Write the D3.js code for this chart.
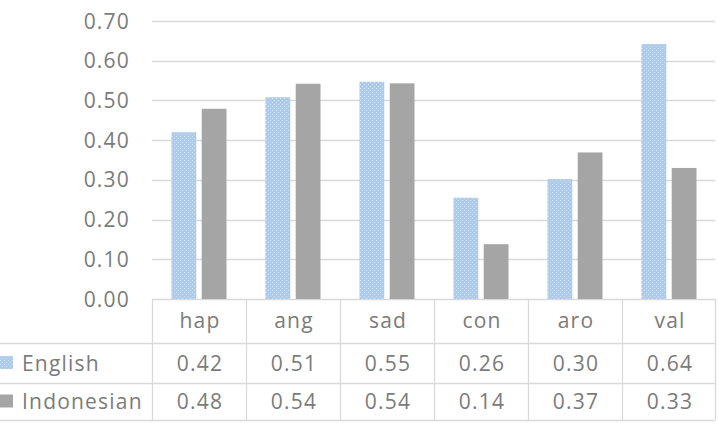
<!DOCTYPE html>
<html>
<head>
<meta charset="utf-8">
<script src="https://cdn.jsdelivr.net/npm/d3@7"></script>
<style>
  body { margin: 0; background: #fff; }
  text { font-family: "Open Sans", "Noto Sans", sans-serif; fill: #7b7b7b; font-size: 21px; letter-spacing: 1.2px; }
</style>
</head>
<body>
<div id="chart"></div>
<script>
// data
var categories = ["hap", "ang", "sad", "con", "aro", "val"];
var series = ["English", "Indonesian"];
var english = [0.420, 0.508, 0.547, 0.255, 0.302, 0.642];
var indonesian = [0.479, 0.542, 0.543, 0.138, 0.369, 0.330];
var yTicks = [0, 0.1, 0.2, 0.3, 0.4, 0.5, 0.6, 0.7];

var values = [english, indonesian];

var width = 719, height = 426;
var plot = {left: 152, right: 716, top: 21, bottom: 299};
var rows = [299, 343, 383, 420];

var svg = d3.select("#chart").append("svg")
    .attr("width", width)
    .attr("height", height);

// dotted fill for the English bars
var defs = svg.append("defs");
var pat = defs.append("pattern")
    .attr("id", "dots")
    .attr("patternUnits", "userSpaceOnUse")
    .attr("width", 4)
    .attr("height", 4);
pat.append("rect").attr("width", 4).attr("height", 4).attr("fill", "#aecbec");
pat.append("rect").attr("x", 0).attr("y", 0).attr("width", 1).attr("height", 1).attr("fill", "#c9ddf3");
pat.append("rect").attr("x", 2).attr("y", 2).attr("width", 1).attr("height", 1).attr("fill", "#c9ddf3");

var colors = ["url(#dots)", "#a5a5a5"];

// scales
var x0 = d3.scaleBand()
    .domain(categories)
    .range([plot.left, plot.right]);
var x1 = d3.scaleBand()
    .domain(series)
    .range([x0.bandwidth() / 2 - 27.5, x0.bandwidth() / 2 + 27.5])
    .paddingInner(0.18);
var y = d3.scaleLinear()
    .domain([0, 0.7])
    .range([plot.bottom, plot.top]);

// gridlines
svg.append("g").selectAll("line")
    .data(yTicks)
    .enter().append("line")
    .attr("x1", plot.left)
    .attr("x2", plot.right - 1)
    .attr("y1", d => Math.round(y(d)) + 0.5)
    .attr("y2", d => Math.round(y(d)) + 0.5)
    .attr("stroke", "#d9d9d9")
    .attr("stroke-width", 1.3);

// y labels
svg.append("g").selectAll("text")
    .data(yTicks)
    .enter().append("text")
    .attr("x", 130)
    .attr("y", d => y(d))
    .attr("dy", "0.36em")
    .attr("text-anchor", "end")
    .text(d => d3.format(".2f")(d));

// bars
var groups = svg.append("g").selectAll("g")
    .data(categories)
    .enter().append("g")
    .attr("transform", d => "translate(" + x0(d) + ",0)");

groups.selectAll("rect")
    .data((d, i) => series.map((s, j) => ({s: s, v: values[j][i], j: j})))
    .enter().append("rect")
    .attr("x", d => x1(d.s))
    .attr("width", x1.bandwidth())
    .attr("y", d => y(d.v))
    .attr("height", d => y(0) - y(d.v))
    .attr("fill", d => colors[d.j]);

// data table lines
var table = svg.append("g");
table.selectAll(".hline")
    .data(rows.slice(1))
    .enter().append("line")
    .attr("x1", 0)
    .attr("x2", plot.right - 1)
    .attr("y1", d => d + 0.5)
    .attr("y2", d => d + 0.5)
    .attr("stroke", "#d9d9d9")
    .attr("stroke-width", 1.3);

var edges = categories.map(c => x0(c)).concat([plot.right - 1]);
table.selectAll(".vline")
    .data(edges)
    .enter().append("line")
    .attr("x1", d => Math.round(d) + 0.5)
    .attr("x2", d => Math.round(d) + 0.5)
    .attr("y1", rows[0])
    .attr("y2", rows[3])
    .attr("stroke", "#d9d9d9")
    .attr("stroke-width", 1.3);

// header row
table.selectAll(".cat")
    .data(categories)
    .enter().append("text")
    .attr("x", d => x0(d) + x0.bandwidth() / 2 + 1)
    .attr("y", (rows[0] + rows[1]) / 2 - 1)
    .attr("dy", "0.36em")
    .attr("text-anchor", "middle")
    .text(d => d);

// series rows
series.forEach((s, j) => {
    var cy = (rows[j + 1] + rows[j + 2]) / 2;
    table.append("rect")
        .attr("x", 0)
        .attr("y", cy - 7)
        .attr("width", 13)
        .attr("height", 13)
        .attr("fill", colors[j]);
    table.append("text")
        .attr("x", 22)
        .attr("y", cy)
        .attr("dy", "0.36em")
        .text(s);
    table.selectAll(".val" + j)
        .data(values[j])
        .enter().append("text")
        .attr("x", (d, i) => x0(categories[i]) + x0.bandwidth() / 2 + 1)
        .attr("y", cy)
        .attr("dy", "0.36em")
        .attr("text-anchor", "middle")
        .text(d => d3.format(".2f")(d));
});
</script>
</body>
</html>
